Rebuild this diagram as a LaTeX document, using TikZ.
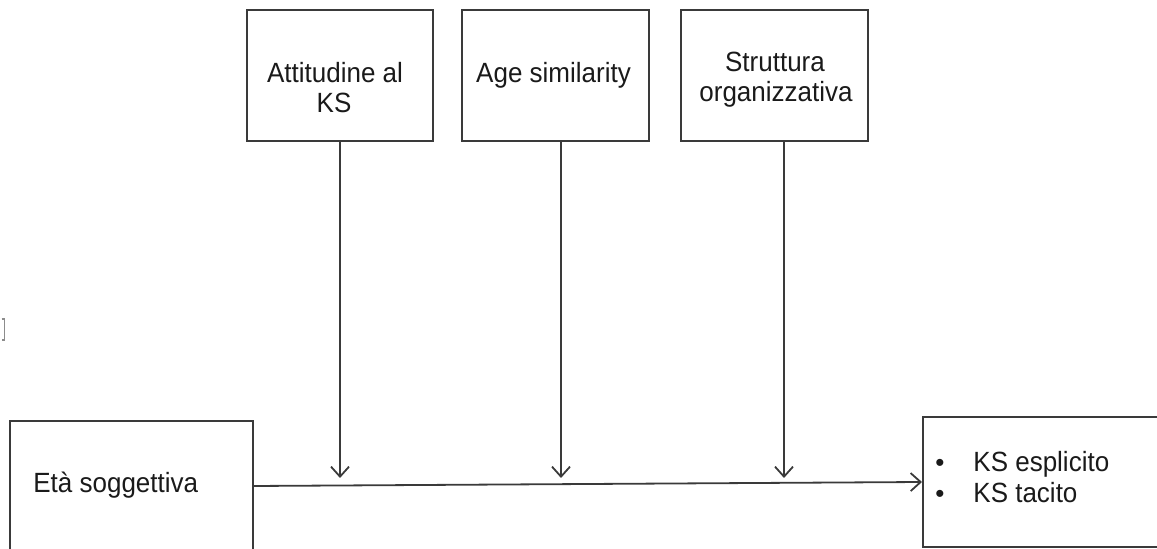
\documentclass[tikz,border=0pt]{standalone}
\usepackage{fontspec}
\usepackage{graphicx}
\setmainfont{Liberation Sans}
\usetikzlibrary{arrows.meta}
\definecolor{linecol}{HTML}{3A3A3A}
\definecolor{txtcol}{HTML}{1A1A1A}
\newcommand{\tallt}[1]{\scalebox{1}[1.07]{#1}}
\begin{document}
\begin{tikzpicture}[x=0.5pt,y=-0.5pt,
  box/.style={draw=linecol, line width=1pt, rectangle, inner sep=0pt},
  txt/.style={font=\fontsize{13}{15}\selectfont, text=txtcol, inner sep=0pt},
  conn/.style={draw=linecol, line width=0.9pt, -{Straight Barb[length=5pt,width=9pt,line width=0.9pt]}}]
\useasboundingbox (0,0) rectangle (1157,549);
\clip (0,0) rectangle (1157,549);
% boxes
\node[box, minimum width=93pt, minimum height=65.5pt] (att) at (340,75.5) {};
\node[box, minimum width=93.5pt, minimum height=65.5pt] (age) at (555.5,75.5) {};
\node[box, minimum width=93.5pt, minimum height=65.5pt] (str) at (774.5,75.5) {};
\node[box, minimum width=121.5pt, minimum height=69.5pt] (eta) at (131.5,490.5) {};
\node[box, minimum width=123.5pt, minimum height=65pt] (ks) at (1046.5,482) {};
% texts
\node[txt, anchor=base] (att1) at (335,83) {\tallt{Attitudine al}};
\node[txt, anchor=base] (att2) at (334,113) {\tallt{KS}};
\node[txt, anchor=base] (age1) at (553.5,82.5) {\tallt{Age similarity}};
\node[txt, anchor=base] (str1) at (775,72) {\tallt{Struttura}};
\node[txt, anchor=base] (str2) at (776,102) {\tallt{organizzativa}};
\node[txt, anchor=base west] (eta1) at (33,493) {\tallt{Età soggettiva}};
\node[txt, anchor=base] (b1) at (940,472) {•};
\node[txt, anchor=base] (b2) at (940,503) {•};
\node[txt, anchor=base west] (ks1) at (973,472) {\tallt{KS esplicito}};
\node[txt, anchor=base west] (ks2) at (973,503) {\tallt{KS tacito}};
% connectors
\coordinate (t1) at (340,478);
\coordinate (t2) at (561,478);
\coordinate (t3) at (784,478);
\coordinate (h0) at (0,486);
\coordinate (h1) at (0,482);
\draw[conn] (att.south -| t1) -- (t1);
\draw[conn] (age.south -| t2) -- (t2);
\draw[conn] (str.south -| t3) -- (t3);
\draw[conn] (eta.east |- h0) -- (ks.west |- h1);
% small mark at left edge
\draw[black!45, line width=0.7pt] (1.5,319) -- (4.5,319) -- (4.5,340) -- (1.5,340);
\end{tikzpicture}
\end{document}
